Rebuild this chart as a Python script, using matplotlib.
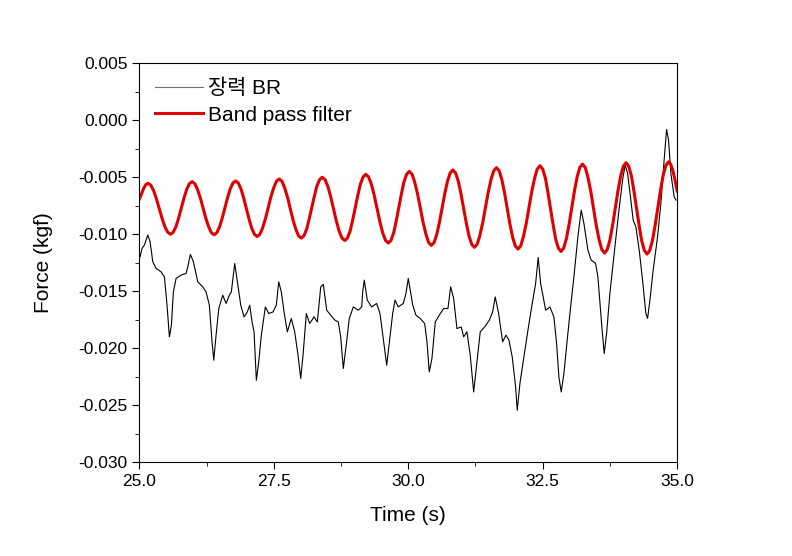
import matplotlib
matplotlib.use("Agg")
from matplotlib import pyplot as plt
from matplotlib.ticker import MultipleLocator, FormatStrFormatter

plt.rcParams['font.family'] = ['Liberation Sans', 'Noto Sans CJK KR', 'DejaVu Sans']
plt.rcParams['axes.unicode_minus'] = False

# raw tension signal
t_raw = [25.013, 25.050, 25.093, 25.156, 25.199, 25.249, 25.310, 25.403, 25.465, 25.509,
         25.558, 25.595, 25.632, 25.682, 25.775, 25.868, 25.900, 25.948, 26.004, 26.086,
         26.178, 26.240, 26.301, 26.351, 26.383, 26.426, 26.476, 26.550, 26.612, 26.673,
         26.710, 26.773, 26.822, 26.885, 26.946, 27.007, 27.052, 27.095, 27.132, 27.175,
         27.219, 27.268, 27.342, 27.405, 27.485, 27.546, 27.591, 27.639, 27.690, 27.751,
         27.825, 27.888, 27.950, 28.000, 28.043, 28.104, 28.167, 28.247, 28.309, 28.372,
         28.420, 28.483, 28.558, 28.638, 28.699, 28.743, 28.792, 28.842, 28.903, 28.978,
         29.071, 29.134, 29.152, 29.182, 29.238, 29.320, 29.413, 29.474, 29.535, 29.599,
         29.660, 29.710, 29.753, 29.814, 29.907, 29.957, 30.000, 30.082, 30.143, 30.223,
         30.305, 30.348, 30.390, 30.440, 30.502, 30.576, 30.658, 30.738, 30.788, 30.844,
         30.905, 30.985, 31.030, 31.091, 31.152, 31.216, 31.277, 31.338, 31.420, 31.506,
         31.569, 31.617, 31.680, 31.755, 31.816, 31.872, 31.933, 31.996, 32.026, 32.076,
         32.151, 32.225, 32.305, 32.368, 32.416, 32.461, 32.509, 32.554, 32.634, 32.708,
         32.758, 32.801, 32.844, 32.894, 32.955, 33.019, 33.080, 33.154, 33.216, 33.266,
         33.340, 33.401, 33.483, 33.526, 33.550, 33.600, 33.643, 33.688, 33.749, 33.829,
         33.911, 33.985, 34.033, 34.078, 34.139, 34.182, 34.232, 34.294, 34.357, 34.418,
         34.450, 34.493, 34.554, 34.636, 34.697, 34.758, 34.803, 34.840, 34.883, 34.944,
         34.976]
f_raw = [-0.01198, -0.01124, -0.01095, -0.01007, -0.01066, -0.01242, -0.01300, -0.01330, -0.01374, -0.01594,
         -0.01901, -0.01799, -0.01506, -0.01388, -0.01359, -0.01344, -0.01286, -0.01177, -0.01242, -0.01418,
         -0.01462, -0.01506, -0.01623, -0.01945, -0.02106, -0.01886, -0.01652, -0.01535, -0.01608, -0.01535,
         -0.01506, -0.01256, -0.01418, -0.01623, -0.01726, -0.01682, -0.01623, -0.01770, -0.01857, -0.02282,
         -0.02121, -0.01886, -0.01638, -0.01696, -0.01682, -0.01623, -0.01418, -0.01506, -0.01682, -0.01857,
         -0.01740, -0.01857, -0.02062, -0.02267, -0.02062, -0.01696, -0.01784, -0.01726, -0.01770, -0.01462,
         -0.01440, -0.01667, -0.01711, -0.01755, -0.01770, -0.01901, -0.02179, -0.01989, -0.01740, -0.01638,
         -0.01667, -0.01638, -0.01506, -0.01403, -0.01579, -0.01638, -0.01608, -0.01696, -0.01916, -0.02150,
         -0.01901, -0.01696, -0.01579, -0.01638, -0.01608, -0.01520, -0.01388, -0.01620, -0.01711, -0.01740,
         -0.01784, -0.01945, -0.02209, -0.02091, -0.01770, -0.01711, -0.01652, -0.01652, -0.01462, -0.01564,
         -0.01828, -0.01814, -0.01901, -0.01857, -0.02062, -0.02385, -0.02121, -0.01857, -0.01814, -0.01755,
         -0.01682, -0.01550, -0.01696, -0.01945, -0.01886, -0.01930, -0.02077, -0.02341, -0.02546, -0.02311,
         -0.02077, -0.01843, -0.01608, -0.01432, -0.01204, -0.01432, -0.01550, -0.01667, -0.01638, -0.01726,
         -0.01959, -0.02253, -0.02385, -0.02223, -0.01930, -0.01638, -0.01374, -0.01022, -0.00788, -0.00905,
         -0.01139, -0.01227, -0.01256, -0.01374, -0.01520, -0.01814, -0.02047, -0.01872, -0.01520, -0.01168,
         -0.00817, -0.00524, -0.00392, -0.00465, -0.00700, -0.00876, -0.00935, -0.01139, -0.01403, -0.01696,
         -0.01740, -0.01579, -0.01315, -0.01022, -0.00729, -0.00348, -0.00080, -0.00172, -0.00465, -0.00671,
         -0.00700]

# band pass filtered signal (one row per half wave)
t_bp = [25.00, 25.04, 25.08, 25.12,
        25.16, 25.2125, 25.265, 25.3175, 25.37, 25.4225, 25.475, 25.5275,
        25.58, 25.63, 25.68, 25.73, 25.78, 25.83, 25.88, 25.93,
        25.98, 26.031, 26.08, 26.134, 26.185, 26.236, 26.29, 26.339,
        26.39, 26.44, 26.49, 26.54, 26.59, 26.64, 26.69, 26.74,
        26.79, 26.84, 26.89, 26.94, 26.99, 27.04, 27.09, 27.14,
        27.19, 27.241, 27.29, 27.344, 27.395, 27.446, 27.50, 27.549,
        27.60, 27.651, 27.70, 27.754, 27.805, 27.856, 27.91, 27.959,
        28.01, 28.059, 28.11, 28.156, 28.205, 28.254, 28.30, 28.351,
        28.40, 28.4525, 28.505, 28.5575, 28.61, 28.6625, 28.715, 28.7675,
        28.82, 28.869, 28.92, 28.966, 29.015, 29.064, 29.11, 29.161,
        29.21, 29.2625, 29.315, 29.3675, 29.42, 29.4725, 29.525, 29.5775,
        29.63, 29.679, 29.73, 29.776, 29.825, 29.874, 29.92, 29.971,
        30.02, 30.071, 30.12, 30.174, 30.225, 30.276, 30.33, 30.379,
        30.43, 30.48, 30.53, 30.58, 30.63, 30.68, 30.73, 30.78,
        30.83, 30.88, 30.93, 30.98, 31.03, 31.08, 31.13, 31.18,
        31.23, 31.281, 31.33, 31.384, 31.435, 31.486, 31.54, 31.589,
        31.64, 31.69, 31.74, 31.79, 31.84, 31.89, 31.94, 31.99,
        32.04, 32.091, 32.14, 32.194, 32.245, 32.296, 32.35, 32.399,
        32.45, 32.499, 32.55, 32.596, 32.645, 32.694, 32.74, 32.791,
        32.84, 32.89, 32.94, 32.99, 33.04, 33.09, 33.14, 33.19,
        33.24, 33.291, 33.34, 33.394, 33.445, 33.496, 33.55, 33.599,
        33.65, 33.70, 33.75, 33.80, 33.85, 33.90, 33.95, 34.00,
        34.05, 34.099, 34.15, 34.196, 34.245, 34.294, 34.34, 34.391,
        34.44, 34.49, 34.54, 34.59, 34.64, 34.69, 34.74, 34.79,
        34.84, 34.88, 34.92, 34.96, 35.00]
f_bp = [-0.00690, -0.00645, -0.00596, -0.00564,
        -0.00553, -0.00570, -0.00618, -0.00691, -0.00777, -0.00862, -0.00935, -0.00983,
        -0.01000, -0.00982, -0.00933, -0.00857, -0.00769, -0.00681, -0.00606, -0.00556,
        -0.00538, -0.00556, -0.00606, -0.00682, -0.00772, -0.00861, -0.00937, -0.00987,
        -0.01005, -0.00987, -0.00936, -0.00859, -0.00769, -0.00678, -0.00601, -0.00550,
        -0.00532, -0.00551, -0.00603, -0.00683, -0.00776, -0.00869, -0.00949, -0.01001,
        -0.01020, -0.01001, -0.00946, -0.00864, -0.00768, -0.00671, -0.00589, -0.00534,
        -0.00515, -0.00535, -0.00591, -0.00675, -0.00775, -0.00874, -0.00958, -0.01014,
        -0.01034, -0.01014, -0.00956, -0.00869, -0.00767, -0.00665, -0.00578, -0.00520,
        -0.00500, -0.00521, -0.00581, -0.00671, -0.00778, -0.00884, -0.00974, -0.01034,
        -0.01055, -0.01033, -0.00970, -0.00876, -0.00765, -0.00653, -0.00559, -0.00496,
        -0.00474, -0.00497, -0.00562, -0.00660, -0.00776, -0.00891, -0.00989, -0.01054,
        -0.01077, -0.01053, -0.00985, -0.00883, -0.00763, -0.00642, -0.00540, -0.00472,
        -0.00448, -0.00473, -0.00543, -0.00649, -0.00773, -0.00897, -0.01003, -0.01073,
        -0.01098, -0.01073, -0.01001, -0.00894, -0.00767, -0.00640, -0.00533, -0.00461,
        -0.00436, -0.00462, -0.00535, -0.00646, -0.00776, -0.00905, -0.01016, -0.01089,
        -0.01115, -0.01088, -0.01013, -0.00899, -0.00766, -0.00632, -0.00518, -0.00443,
        -0.00416, -0.00443, -0.00520, -0.00636, -0.00773, -0.00910, -0.01026, -0.01103,
        -0.01130, -0.01102, -0.01023, -0.00904, -0.00765, -0.00625, -0.00506, -0.00427,
        -0.00399, -0.00428, -0.00509, -0.00631, -0.00775, -0.00919, -0.01041, -0.01122,
        -0.01151, -0.01122, -0.01039, -0.00914, -0.00768, -0.00621, -0.00496, -0.00413,
        -0.00384, -0.00414, -0.00498, -0.00625, -0.00775, -0.00924, -0.01051, -0.01135,
        -0.01165, -0.01135, -0.01049, -0.00920, -0.00769, -0.00617, -0.00488, -0.00402,
        -0.00372, -0.00403, -0.00489, -0.00620, -0.00773, -0.00926, -0.01057, -0.01143,
        -0.01174, -0.01143, -0.01056, -0.00924, -0.00769, -0.00614, -0.00482, -0.00395,
        -0.00364, -0.00386, -0.00441, -0.00525, -0.00620]

fig = plt.figure(figsize=(7.92, 5.56), dpi=100)
ax = fig.add_axes([0.176, 0.169, 0.679, 0.717])

ax.plot(t_raw, f_raw, color='black', linewidth=0.8, label='장력 BR')
ax.plot(t_bp, f_bp, color='#e00000', linewidth=2.2, label='Band pass filter')

ax.set_xlim(25, 35)
ax.set_ylim(-0.030, 0.005)
ax.xaxis.set_major_locator(MultipleLocator(2.5))
ax.xaxis.set_minor_locator(MultipleLocator(1.25))
ax.yaxis.set_major_locator(MultipleLocator(0.005))
ax.yaxis.set_minor_locator(MultipleLocator(0.0025))
ax.xaxis.set_major_formatter(FormatStrFormatter('%.1f'))
ax.yaxis.set_major_formatter(FormatStrFormatter('%.3f'))
ax.tick_params(which='both', direction='out', top=False, right=False, labelsize=12.5)
ax.tick_params(which='major', length=5)
ax.tick_params(which='minor', length=3)

ax.set_xlabel('Time (s)', fontsize=15, labelpad=12)
ax.set_ylabel('Force (kgf)', fontsize=15, labelpad=18)

leg = ax.legend(loc='upper left', frameon=False, fontsize=15, handlelength=2.3,
                handletextpad=0.25, borderaxespad=0.35, labelspacing=0.35)
leg.get_lines()[0].set_color('#707070')

plt.savefig('out.png', dpi=100)
